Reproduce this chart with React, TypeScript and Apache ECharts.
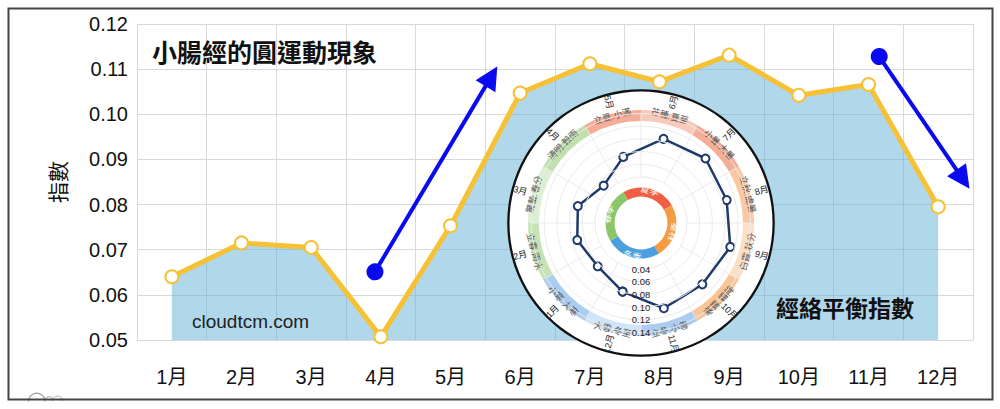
import { useEffect, useRef } from 'react';
import * as echarts from 'echarts';

// main line: monthly index values
const months = ['1月', '2月', '3月', '4月', '5月', '6月', '7月', '8月', '9月', '10月', '11月', '12月'];
const indexValues = [0.064, 0.0715, 0.0705, 0.0507, 0.0753, 0.1047, 0.1112, 0.1072, 0.1131, 0.1042, 0.1066, 0.0795];

// blue trend arrows, [x in category units, y value]
const arrowUp = [[2.916, 0.0651], [4.587, 0.1084]];
const arrowDown = [[10.154, 0.1128], [11.357, 0.0856]];

// inset: polar version of the same data, starting from 12月 (bottom) clockwise
const polarMonths = ['12月', '1月', '2月', '3月', '4月', '5月', '6月', '7月', '8月', '9月', '10月', '11月'];
const solarTerms = [
  '大雪.冬至', '小寒.大寒', '立春.雨水', '驚蟄.春分', '清明.穀雨', '立夏.小滿',
  '芒種.夏至', '小暑.大暑', '立秋.處暑', '白露.秋分', '寒露.霜降', '立冬.小雪',
];
const termColors = [
  '#d2e4f7', '#abcdf0', '#c7e3b6', '#ddefd2', '#c2e0ad', '#f6ad98',
  '#f9c9ba', '#f5ad96', '#f9c9a3', '#fcdfc6', '#f8c597', '#abcdf0',
];
const seasons = ['夏季', '秋季', '冬季', '春季'];
const seasonColors = ['#ee5f45', '#f59b43', '#4b9fdf', '#8cc66a'];

const FONT = '"Liberation Sans", "Noto Sans CJK TC", sans-serif';
const INSET_CENTER = [641, 223];

export default function App() {
  const chartRef = useRef<HTMLDivElement>(null);

  useEffect(() => {
    if (!chartRef.current) return;
    const chart = echarts.init(chartRef.current, null, { renderer: 'svg' });

    const polarData = polarMonths.map((m) => [indexValues[months.indexOf(m)], m]);
    polarData.push(polarData[0]);

    const option = {
      animation: false,
      textStyle: { fontFamily: FONT },
      title: [
        {
          text: '小腸經的圓運動現象',
          left: 152,
          top: 40,
          padding: 0,
          textStyle: { fontSize: 25, fontWeight: 'bold', color: '#111', fontFamily: FONT },
        },
        {
          text: 'cloudtcm.com',
          left: 192,
          top: 312,
          padding: 0,
          textStyle: { fontSize: 19, fontWeight: 'normal', color: '#222', fontFamily: FONT },
        },
        {
          text: '經絡平衡指數',
          left: 776,
          top: 297,
          padding: 0,
          z: 10,
          textStyle: { fontSize: 23, fontWeight: 'bold', color: '#111', fontFamily: FONT },
        },
      ],
      grid: { left: 137, right: 27, top: 24, bottom: 69 },
      xAxis: [
        {
          type: 'category',
          data: months,
          boundaryGap: true,
          axisLine: { show: false },
          axisTick: { show: false },
          axisLabel: { fontSize: 20, color: '#111', margin: 27 },
          splitLine: { show: true, lineStyle: { color: '#d6d9de', width: 1 } },
        },
        { type: 'value', min: -0.5, max: 11.5, show: false },
      ],
      yAxis: {
        type: 'value',
        min: 0.05,
        max: 0.12,
        interval: 0.01,
        name: '指數',
        nameLocation: 'middle',
        nameGap: 68,
        nameTextStyle: { fontSize: 21, color: '#111' },
        axisLine: { show: false },
        axisTick: { show: false },
        axisLabel: { fontSize: 20, color: '#111', margin: 9, formatter: (v: number) => v.toFixed(2) },
        splitLine: { show: true, lineStyle: { color: '#d6d9de', width: 1 } },
      },
      polar: { center: INSET_CENTER, radius: [46, 109.5] },
      angleAxis: {
        type: 'category',
        data: polarMonths,
        startAngle: 270,
        clockwise: true,
        boundaryGap: true,
        z: 5,
        axisLine: { show: false },
        axisTick: { show: false },
        axisLabel: { show: false },
        splitLine: { show: true, lineStyle: { color: '#ebebeb' } },
      },
      radiusAxis: {
        type: 'value',
        min: 0.04,
        max: 0.14,
        interval: 0.02,
        z: 8,
        axisLine: { show: false },
        axisTick: { show: false },
        axisLabel: {
          fontSize: 9.5,
          color: '#222',
          margin: 0,
          align: 'center',
          verticalAlign: 'middle',
          formatter: (v: number) => v.toFixed(2),
        },
        splitLine: { show: true, lineStyle: { color: '#ebebeb' } },
      },
      series: [
        {
          type: 'line',
          data: indexValues,
          z: 2,
          symbol: 'emptyCircle',
          symbolSize: 13,
          lineStyle: { color: '#f6c134', width: 5 },
          itemStyle: { color: '#f6c134', borderWidth: 4 },
          areaStyle: { color: 'rgb(100,175,215)', opacity: 0.5 },
        },
        {
          type: 'lines',
          coordinateSystem: 'cartesian2d',
          xAxisIndex: 1,
          yAxisIndex: 0,
          z: 2,
          symbol: ['circle', 'triangle'],
          symbolSize: [17, 23],
          lineStyle: { color: '#0a0af0', width: 4, opacity: 1, curveness: 0 },
          data: [{ coords: arrowUp }, { coords: arrowDown }],
        },
        // inset disk and frame
        {
          type: 'pie',
          center: INSET_CENTER,
          radius: [0, 132],
          z: 3,
          silent: true,
          label: { show: false },
          itemStyle: { color: '#ffffff' },
          data: [{ name: 'disk', value: 1 }],
        },
        {
          type: 'pie',
          center: INSET_CENTER,
          radius: [131.5, 133.8],
          z: 3,
          silent: true,
          label: { show: false },
          itemStyle: { color: '#111111' },
          data: [{ name: 'frame', value: 1 }],
        },
        // month ring labels
        {
          type: 'pie',
          center: INSET_CENTER,
          radius: [115, 129],
          startAngle: 270,
          z: 4,
          silent: true,
          avoidLabelOverlap: false,
          itemStyle: { color: 'rgba(0,0,0,0)' },
          label: { show: true, position: 'inside', rotate: 'radial', fontSize: 9, color: '#222', formatter: '{b}' },
          labelLine: { show: false },
          data: polarMonths.map((name) => ({ name, value: 1 })),
        },
        // solar term ring
        {
          type: 'pie',
          center: INSET_CENTER,
          radius: [102, 113],
          startAngle: 270,
          z: 4,
          silent: true,
          avoidLabelOverlap: false,
          label: { show: true, position: 'inside', rotate: 'tangential', fontSize: 9, color: '#555', formatter: '{b}' },
          labelLine: { show: false },
          data: solarTerms.map((name, i) => ({ name, value: 1, itemStyle: { color: termColors[i] } })),
        },
        // season ring
        {
          type: 'pie',
          center: INSET_CENTER,
          radius: [26.5, 35.5],
          startAngle: 120,
          z: 4,
          silent: true,
          avoidLabelOverlap: false,
          label: { show: true, position: 'inside', rotate: 'tangential', fontSize: 9.5, color: '#fff', formatter: '{b}' },
          labelLine: { show: false },
          data: seasons.map((name, i) => ({ name, value: 1, itemStyle: { color: seasonColors[i] } })),
        },
        {
          type: 'line',
          coordinateSystem: 'polar',
          polarIndex: 0,
          z: 6,
          data: polarData,
          symbol: 'emptyCircle',
          symbolSize: 8,
          lineStyle: { color: '#1f3a6b', width: 2.5 },
          itemStyle: { color: '#1f3a6b', borderWidth: 2 },
        },
      ],
      graphic: [
        {
          type: 'arc',
          shape: { cx: 36.7, cy: 401.5, r: 8.3, startAngle: Math.PI, endAngle: 2 * Math.PI },
          style: { stroke: '#9a9a9a', fill: 'none', lineWidth: 1.2 },
        },
        {
          type: 'arc',
          shape: { cx: 49, cy: 400.5, r: 4, startAngle: Math.PI, endAngle: 2 * Math.PI },
          style: { stroke: '#b0b0b0', fill: 'none', lineWidth: 1 },
        },
        {
          type: 'arc',
          shape: { cx: 57.5, cy: 401, r: 5, startAngle: Math.PI, endAngle: 2 * Math.PI },
          style: { stroke: '#b0b0b0', fill: 'none', lineWidth: 1 },
        },
        {
          type: 'rect',
          z: 100,
          shape: { x: 8.5, y: 8.5, width: 984, height: 391 },
          style: { fill: 'none', stroke: '#444', lineWidth: 2 },
        },
      ],
    };

    chart.setOption(option as any);

    return () => {
      chart.dispose();
    };
  }, []);

  return (
    <div
      ref={chartRef}
      style={{ position: 'fixed', left: 0, top: 0, width: 1000, height: 409, background: '#fff' }}
    />
  );
}
